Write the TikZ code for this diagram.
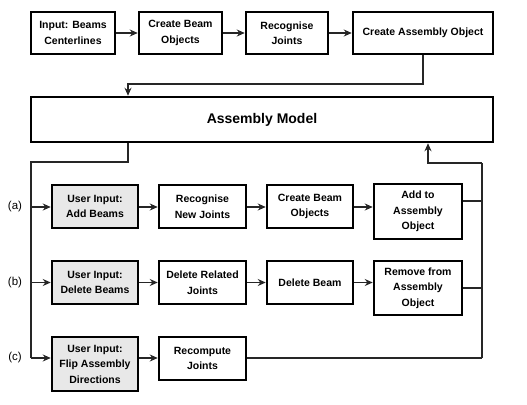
\documentclass[tikz,border=0pt]{standalone}
\usepackage{fontspec}
\setmainfont{Liberation Sans}
\usetikzlibrary{arrows.meta,calc}
\begin{document}
\begin{tikzpicture}[x=1pt,y=-1pt,
  box/.style={draw=black,line width=2.5pt,fill=white,inner sep=0pt,align=center,
    font=\fontsize{10.5}{15.5}\selectfont\bfseries},
  userbox/.style={box,fill=gray!18},
  conn/.style={line width=1.2pt,draw=black!85},
  arr/.style={conn,-{Stealth[length=8pt,width=7pt]}},
  lab/.style={font=\fontsize{11.5}{13}\selectfont,inner sep=0pt}]
\useasboundingbox (0,0) rectangle (527,404);
% top row
\node[box,minimum width=84pt,minimum height=42pt] (t1) at (73,33) {Input: Beams\\Centerlines};
\node[box,minimum width=83pt,minimum height=42pt] (t2) at (180.5,33) {Create Beam\\Objects};
\node[box,minimum width=82pt,minimum height=42pt] (t3) at (287,33) {Recognise\\Joints};
\node[box,minimum width=140pt,minimum height=42pt] (t4) at (423,33) {Create Assembly Object};
% assembly model
\node[box,minimum width=462pt,minimum height=45pt,font=\fontsize{14}{16}\selectfont\bfseries] (am) at (262,119.5) {Assembly Model};
% row a
\node[userbox,minimum width=86pt,minimum height=43pt] (a1) at (95,206.5) {User Input:\\Add Beams};
\node[box,minimum width=87pt,minimum height=43pt] (a2) at (202.5,206.5) {Recognise\\New Joints};
\node[box,minimum width=86pt,minimum height=43pt] (a3) at (310,206.5) {Create Beam\\Objects};
\node[box,minimum width=88pt,minimum height=55pt] (a4) at (418,211.5) {Add to\\Assembly\\Object};
% row b
\node[userbox,minimum width=86pt,minimum height=43pt] (b1) at (95,282.5) {User Input:\\Delete Beams};
\node[box,minimum width=87pt,minimum height=43pt] (b2) at (202.5,282.5) {Delete Related\\Joints};
\node[box,minimum width=86pt,minimum height=43pt] (b3) at (310,282.5) {Delete Beam};
\node[box,minimum width=88pt,minimum height=54pt] (b4) at (418,288) {Remove from\\Assembly\\Object};
% row c
\node[userbox,minimum width=86pt,minimum height=54pt] (c1) at (95,364) {User Input:\\Flip Assembly\\Directions};
\node[box,minimum width=87pt,minimum height=43pt] (c2) at (202.5,358.5) {Recompute\\Joints};
% labels
\node[lab] (la) at (15,207) {(a)};
\node[lab] (lb) at (15,282.5) {(b)};
\node[lab] (lc) at (15,358) {(c)};
% coordinates
\coordinate (topbend) at (423,84);
\coordinate (amin) at (128,84);
\coordinate (lbus0) at (128,162);
\coordinate (lbus1) at (31,162);
\coordinate (lbusa) at (31,207);
\coordinate (lbusb) at (31,282.5);
\coordinate (lbusc) at (31,358);
\coordinate (rbus0) at (482,163);
\coordinate (rbusa) at (482,201);
\coordinate (rbusb) at (482,288);
\coordinate (rbusc) at (482,358);
\coordinate (amret) at (428,163);
% top connectors
\draw[arr] (t1) -- (t2);
\draw[arr] (t2) -- (t3);
\draw[arr] (t3) -- (t4);
\draw[arr] (t4.south) -- (topbend) -- (amin) -- (am.north -| amin);
% left bus
\draw[conn] (am.south -| lbus0) -- (lbus0) -- (lbus1) -- (lbusc);
\draw[arr] (lbusa) -- (lbusa -| a1.west);
\draw[arr] (lbusb) -- (lbusb -| b1.west);
\draw[arr] (lbusc) -- (lbusc -| c1.west);
% row arrows
\draw[arr] (a1.east |- lbusa) -- (a2.west |- lbusa);
\draw[arr] (a2.east |- lbusa) -- (a3.west |- lbusa);
\draw[arr] (a3.east |- lbusa) -- (a4.west |- lbusa);
\draw[arr] (b1) -- (b2);
\draw[arr] (b2) -- (b3);
\draw[arr] (b3.east) -- (b4.west |- b3.east);
\draw[arr] (c1.east |- lbusc) -- (c2.west |- lbusc);
% right bus
\draw[conn] (a4.east |- rbusa) -- (rbusa);
\draw[conn] (b4.east |- rbusb) -- (rbusb);
\draw[conn] (c2.east |- rbusc) -- (rbusc);
\draw[conn] (rbusc) -- (rbus0);
\draw[arr] (rbus0) -- (amret) -- (am.south -| amret);
\end{tikzpicture}
\end{document}
